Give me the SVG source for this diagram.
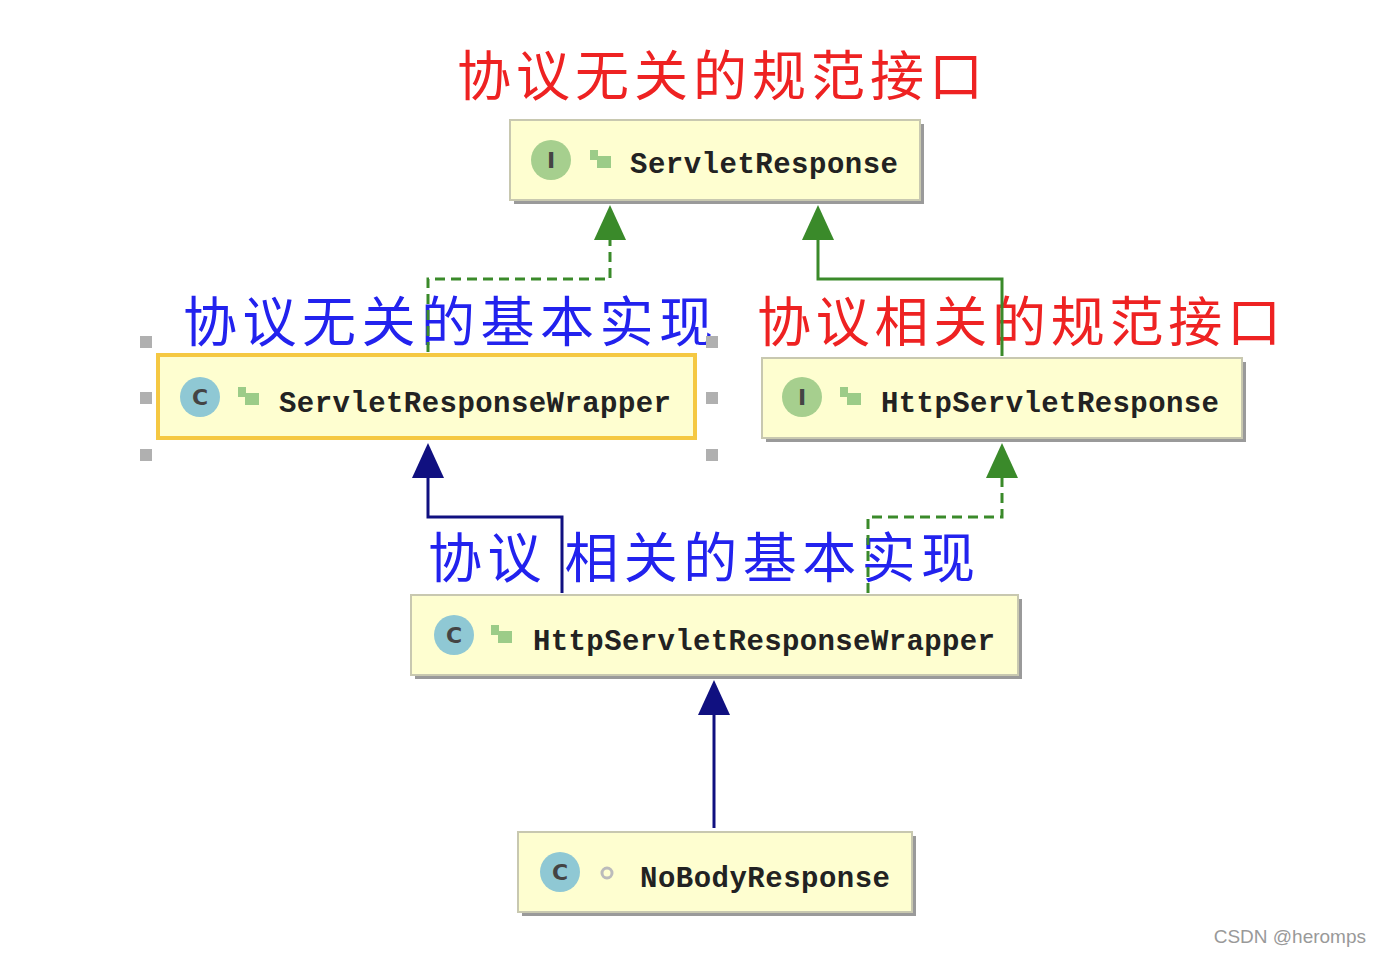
<svg xmlns="http://www.w3.org/2000/svg" width="1382" height="956" viewBox="0 0 1382 956">
<style>
.box{fill:#fefed0;stroke:#c8c8b0;stroke-width:2}
.sh{fill:#9a9a9a}
.nm{font-family:"Liberation Mono",monospace;font-weight:bold;font-size:29px;fill:#222}
.ic{font-family:"DejaVu Sans",sans-serif;font-weight:bold;font-size:22px;fill:#444;text-anchor:middle}
.lb{font-family:"Noto Sans CJK SC",sans-serif;font-size:54px}
.g{stroke:#3a8a2a;stroke-width:3;fill:none}
.gd{stroke:#3a8a2a;stroke-width:3;fill:none;stroke-dasharray:10 6}
.n{stroke:#101080;stroke-width:3;fill:none}
.h{fill:#b0b0b0}
</style>
<rect width="1382" height="956" fill="#fff"/>
<g id="labels">
<text class="lb" x="457" y="96" fill="#ee2222" textLength="526">协议无关的规范接口</text>
<text class="lb" x="183" y="342" fill="#2222ee" textLength="530">协议无关的基本实现</text>
<text class="lb" x="757" y="342" fill="#ee2222" textLength="524">协议相关的规范接口</text>
<text class="lb" x="428" y="578" fill="#2222ee" textLength="547">协议 相关的基本实现</text>
</g>
<g id="connectors">
<polyline class="gd" points="428,352 428,279 610,279 610,238"/>
<polygon points="610,205 594,240 626,240" fill="#3a8a2a"/>
<polyline class="g" points="1002,356 1002,279 818,279 818,238"/>
<polygon points="818,205 802,240 834,240" fill="#3a8a2a"/>
<polyline class="n" points="562,593 562,517 428,517 428,476"/>
<polygon points="428,443 412,478 444,478" fill="#101080"/>
<polyline class="gd" points="868,593 868,517 1002,517 1002,476"/>
<polygon points="1002,443 986,478 1018,478" fill="#3a8a2a"/>
<line class="n" x1="714" y1="828" x2="714" y2="712"/>
<polygon points="714,680 698,715 730,715" fill="#101080"/>
</g>
<g id="ServletResponse">
<rect class="sh" x="514" y="124" width="410" height="80"/>
<rect class="box" x="510" y="120" width="410" height="80"/>
<circle cx="551" cy="160" r="20" fill="#a6cf8e"/><text class="ic" x="551" y="168">I</text>
<rect x="590" y="150" width="8" height="10" fill="#9ccc88"/><rect x="597" y="156" width="14" height="12" fill="#9ccc88"/>
<text class="nm" x="630" y="173" textLength="268">ServletResponse</text>
</g>
<g id="ServletResponseWrapper">
<rect class="h" x="140" y="336" width="12" height="12"/><rect class="h" x="140" y="392" width="12" height="12"/><rect class="h" x="140" y="449" width="12" height="12"/>
<rect class="h" x="706" y="336" width="12" height="12"/><rect class="h" x="706" y="392" width="12" height="12"/><rect class="h" x="706" y="449" width="12" height="12"/>
<rect x="158" y="355" width="537" height="83" fill="#fefed0" stroke="#f5c842" stroke-width="4"/>
<circle cx="200" cy="397" r="20" fill="#8fc8d4"/><text class="ic" x="200" y="405">C</text>
<rect x="238" y="387" width="8" height="10" fill="#9ccc88"/><rect x="245" y="393" width="14" height="12" fill="#9ccc88"/>
<text class="nm" x="279" y="412" textLength="392">ServletResponseWrapper</text>
</g>
<g id="HttpServletResponse">
<rect class="sh" x="766" y="362" width="480" height="80"/>
<rect class="box" x="762" y="358" width="480" height="80"/>
<circle cx="802" cy="397" r="20" fill="#a6cf8e"/><text class="ic" x="802" y="405">I</text>
<rect x="840" y="387" width="8" height="10" fill="#9ccc88"/><rect x="847" y="393" width="14" height="12" fill="#9ccc88"/>
<text class="nm" x="881" y="412" textLength="338">HttpServletResponse</text>
</g>
<g id="HttpServletResponseWrapper">
<rect class="sh" x="415" y="599" width="607" height="80"/>
<rect class="box" x="411" y="595" width="607" height="80"/>
<circle cx="454" cy="635" r="20" fill="#8fc8d4"/><text class="ic" x="454" y="643">C</text>
<rect x="491" y="625" width="8" height="10" fill="#9ccc88"/><rect x="498" y="631" width="14" height="12" fill="#9ccc88"/>
<text class="nm" x="533" y="650" textLength="462">HttpServletResponseWrapper</text>
</g>
<g id="NoBodyResponse">
<rect class="sh" x="522" y="836" width="394" height="80"/>
<rect class="box" x="518" y="832" width="394" height="80"/>
<circle cx="560" cy="872" r="20" fill="#8fc8d4"/><text class="ic" x="560" y="880">C</text>
<circle cx="607" cy="873" r="5" fill="none" stroke="#bbb" stroke-width="3"/>
<text class="nm" x="640" y="887" textLength="250">NoBodyResponse</text>
</g>
<text x="1366" y="943" font-family="Liberation Sans,sans-serif" font-size="19" fill="#999" text-anchor="end">CSDN @heromps</text>
</svg>
